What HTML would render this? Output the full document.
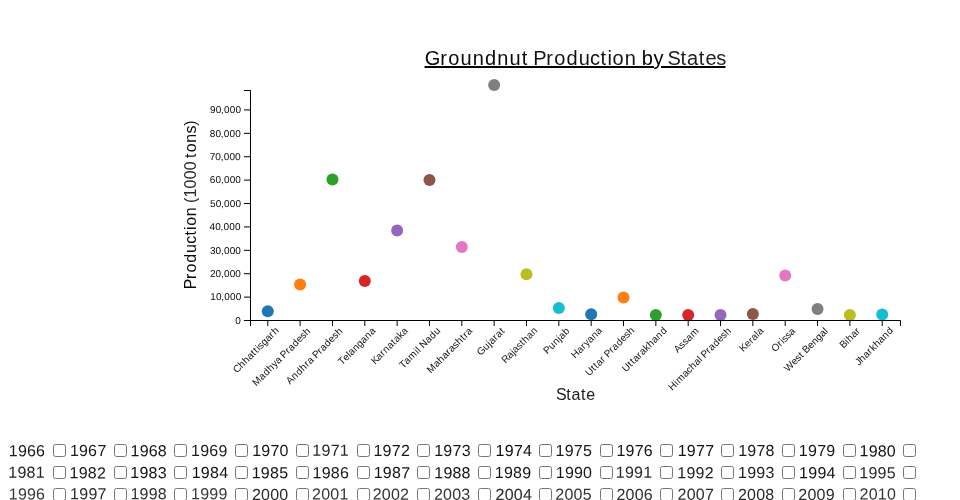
<!DOCTYPE html>
<html lang="en">
<head>
<meta charset="utf-8">
<title>Groundnut Production by States</title>
<style>
html,body{margin:0;padding:0;background:#fff;}
body{width:960px;height:500px;overflow:hidden;position:relative;font-family:"Liberation Sans", sans-serif;font-size:16px;color:#000;}
svg{position:absolute;left:0;top:0;display:block;}
svg text{font-family:"Liberation Sans", sans-serif;}
.axis path,.axis line{fill:none;stroke:#000;stroke-width:1;}
.years{position:absolute;left:0;top:0;width:960px;height:500px;}
.yr{position:absolute;white-space:nowrap;font-size:16px;line-height:22px;height:22px;}
.cb{position:absolute;margin:0;padding:0;width:13px;height:13px;}
</style>
</head>
<body>
<svg width="960" height="500" viewBox="0 0 960 500">
<text transform="translate(575,65)" font-size="20" fill="#050505"><tspan x="-150.15 -134.8 -126.75 -114.58 -102.39 -89.99 -77.89 -65.55 -53.32" fill="#0a0a0a">Groundnut</tspan> <tspan x="-41.76 -28.77 -20.72 -8.49 3.69 15.07 25.51 32.39 37.58 49.67" fill="#131313">Production</tspan> <tspan x="66.76 78.55" fill="#050505">by</tspan> <tspan x="92.61 105.47 112.07 123.72 130.45 141.27" fill="#202020">States</tspan></text>
<rect class="ul" x="424.53" y="66" width="229.47" height="2" fill="#000"/><rect class="ul" x="661" y="66" width="64.46" height="2" fill="#000"/>
<g class="dots">
<circle cx="267.79" cy="311.35" r="6" fill="#1f77b4"/>
<circle cx="300.12" cy="284.5" r="6" fill="#ff7f0e"/>
<circle cx="332.46" cy="179.5" r="6" fill="#2ca02c"/>
<circle cx="364.8" cy="281.05" r="6" fill="#d62728"/>
<circle cx="397.14" cy="230.6" r="6" fill="#9467bd"/>
<circle cx="429.48" cy="180" r="6" fill="#8c564b"/>
<circle cx="461.82" cy="247.05" r="6" fill="#e377c2"/>
<circle cx="494.15" cy="84.95" r="6" fill="#7f7f7f"/>
<circle cx="526.49" cy="274.3" r="6" fill="#bcbd22"/>
<circle cx="558.83" cy="308.05" r="6" fill="#17becf"/>
<circle cx="591.17" cy="314.35" r="6" fill="#1f77b4"/>
<circle cx="623.51" cy="297.6" r="6" fill="#ff7f0e"/>
<circle cx="655.85" cy="315" r="6" fill="#2ca02c"/>
<circle cx="688.18" cy="315" r="6" fill="#d62728"/>
<circle cx="720.52" cy="315" r="6" fill="#9467bd"/>
<circle cx="752.86" cy="314" r="6" fill="#8c564b"/>
<circle cx="785.2" cy="275.5" r="6" fill="#e377c2"/>
<circle cx="817.54" cy="309.1" r="6" fill="#7f7f7f"/>
<circle cx="849.88" cy="314.95" r="6" fill="#bcbd22"/>
<circle cx="882.21" cy="314.55" r="6" fill="#17becf"/>
</g>
<g class="axis">
<path d="M244,90.5H250.5V320.5H244"/>
<line x1="244" x2="250" y1="320.5" y2="320.5"/>
<line x1="244" x2="250" y1="297.105" y2="297.105"/>
<line x1="244" x2="250" y1="273.71" y2="273.71"/>
<line x1="244" x2="250" y1="250.315" y2="250.315"/>
<line x1="244" x2="250" y1="226.92" y2="226.92"/>
<line x1="244" x2="250" y1="203.525" y2="203.525"/>
<line x1="244" x2="250" y1="180.13" y2="180.13"/>
<line x1="244" x2="250" y1="156.735" y2="156.735"/>
<line x1="244" x2="250" y1="133.34" y2="133.34"/>
<line x1="244" x2="250" y1="109.945" y2="109.945"/>
<text transform="translate(240.936,323.7)" x="-5.64" font-size="10" fill="#080808" text-rendering="geometricPrecision">0</text>
<text transform="translate(241.282,300.305)" x="-31.1 -25.4 -20.09 -17.09 -11.37 -5.65" font-size="10" fill="#070707" text-rendering="geometricPrecision">10,000</text>
<text transform="translate(241.002,276.91)" x="-31.06 -25.4 -20.09 -17.09 -11.37 -5.65" font-size="10" fill="#070707" text-rendering="geometricPrecision">20,000</text>
<text transform="translate(240.987,253.515)" x="-31.07 -25.4 -20.09 -17.09 -11.37 -5.65" font-size="10" fill="#020202" text-rendering="geometricPrecision">30,000</text>
<text transform="translate(240.666,230.12)" x="-31.06 -25.4 -20.09 -17.09 -11.37 -5.65" font-size="10" fill="#040404" text-rendering="geometricPrecision">40,000</text>
<text transform="translate(241.07,206.725)" x="-31.05 -25.4 -20.09 -17.09 -11.37 -5.65" font-size="10" fill="#080808" text-rendering="geometricPrecision">50,000</text>
<text transform="translate(240.987,183.33)" x="-31.15 -25.4 -20.09 -17.09 -11.37 -5.65" font-size="10" fill="#080808" text-rendering="geometricPrecision">60,000</text>
<text transform="translate(240.754,159.935)" x="-31.03 -25.4 -20.09 -17.09 -11.37 -5.65" font-size="10" fill="#2b2b2b" stroke="#2b2b2b" stroke-width="0.12" text-rendering="geometricPrecision">70,000</text>
<text transform="translate(240.827,136.54)" x="-31.13 -25.4 -20.09 -17.09 -11.37 -5.65" font-size="10" fill="#040404" text-rendering="geometricPrecision">80,000</text>
<text transform="translate(241.123,113.145)" x="-31.06 -25.4 -20.09 -17.09 -11.37 -5.65" font-size="10" fill="#080808" text-rendering="geometricPrecision">90,000</text>
</g>
<g class="axis">
<path d="M250.5,326V320.5H900.5V326"/>
<line x1="267.786" x2="267.786" y1="320" y2="326"/>
<line x1="300.124" x2="300.124" y1="320" y2="326"/>
<line x1="332.463" x2="332.463" y1="320" y2="326"/>
<line x1="364.801" x2="364.801" y1="320" y2="326"/>
<line x1="397.139" x2="397.139" y1="320" y2="326"/>
<line x1="429.478" x2="429.478" y1="320" y2="326"/>
<line x1="461.816" x2="461.816" y1="320" y2="326"/>
<line x1="494.154" x2="494.154" y1="320" y2="326"/>
<line x1="526.493" x2="526.493" y1="320" y2="326"/>
<line x1="558.831" x2="558.831" y1="320" y2="326"/>
<line x1="591.169" x2="591.169" y1="320" y2="326"/>
<line x1="623.507" x2="623.507" y1="320" y2="326"/>
<line x1="655.846" x2="655.846" y1="320" y2="326"/>
<line x1="688.184" x2="688.184" y1="320" y2="326"/>
<line x1="720.522" x2="720.522" y1="320" y2="326"/>
<line x1="752.861" x2="752.861" y1="320" y2="326"/>
<line x1="785.199" x2="785.199" y1="320" y2="326"/>
<line x1="817.537" x2="817.537" y1="320" y2="326"/>
<line x1="849.876" x2="849.876" y1="320" y2="326"/>
<line x1="882.214" x2="882.214" y1="320" y2="326"/>
<text transform="translate(279.575,330.92) rotate(-45)" x="-60.25 -53.24 -47.11 -41.17 -35.36 -31.8 -28.35 -26.11 -21.43 -15.77 -9.95 -5.93" font-size="10" fill="#111111">Chhattisgarh</text>
<text transform="translate(311.315,331.463) rotate(-45)" x="-77.92 -69.27 -63.4 -57.4 -51.48 -46.45 -40.91 -38.51 -32.01 -28.19 -22.32 -16.45 -11.05 -5.94" font-size="10" fill="#131313">Madhya Pradesh</text>
<text transform="translate(343.349,331.548) rotate(-45)" x="-75.42 -68.68 -62.47 -56.47 -50.26 -46.45 -40.91 -38.51 -32.01 -28.19 -22.33 -16.45 -11.05 -5.94" font-size="10" fill="#111111">Andhra Pradesh</text>
<text transform="translate(376.155,331.449) rotate(-45)" x="-48.32 -42.44 -36.76 -34.36 -28.56 -22.9 -17.24 -11.45 -5.55" font-size="10" fill="#111111">Telangana</text>
<text transform="translate(408.54,331.272) rotate(-45)" x="-47.41 -41.27 -35.44 -31.37 -25.49 -19.66 -16.36 -10.68 -5.55" font-size="10" fill="#1d1d1d">Karnataka</text>
<text transform="translate(441.12,331.002) rotate(-45)" x="-53.61 -47.8 -41.8 -32.85 -30.32 -27.95 -25.19 -17.81 -11.94 -5.85" font-size="10" fill="#101010">Tamil Nadu</text>
<text transform="translate(473.032,331.522) rotate(-45)" x="-59.66 -51 -45.24 -39.31 -33.48 -29.67 -24.25 -19.15 -12.94 -9.37 -5.56" font-size="10" fill="#0f0f0f">Maharashtra</text>
<text transform="translate(505.466,331.463) rotate(-45)" x="-34.83 -27.14 -21.22 -18.77 -12.94 -9.13 -3.3" font-size="10" fill="#131313">Gujarat</text>
<text transform="translate(538.279,330.925) rotate(-45)" x="-46.33 -39.78 -34.16 -31.7 -26.3 -21.13 -17.63 -11.69 -5.88" font-size="10" fill="#1c1c1c">Rajasthan</text>
<text transform="translate(570.404,331.4) rotate(-45)" x="-32.68 -26.17 -20.09 -14.11 -11.67 -5.9" font-size="10" fill="#141414">Punjab</text>
<text transform="translate(602.768,331.101) rotate(-45)" x="-39.22 -31.91 -26.08 -22.27 -17.25 -11.45 -5.56" font-size="10" fill="#1b1b1b">Haryana</text>
<text transform="translate(635.159,330.718) rotate(-45)" x="-64.93 -57.39 -53.83 -50.53 -44.7 -40.89 -38.49 -32 -28.19 -22.32 -16.44 -11.04 -5.93" font-size="10" fill="#161616">Uttar Pradesh</text>
<text transform="translate(667.604,330.89) rotate(-45)" x="-58.8 -51.27 -47.71 -44.41 -38.58 -34.75 -29.07 -23.75 -17.81 -12.01 -5.82" font-size="10" fill="#141414">Uttarakhand</text>
<text transform="translate(699.647,331.352) rotate(-45)" x="-30.85 -24.49 -19.72 -14.81 -8.82" font-size="10" fill="#171717">Assam</text>
<text transform="translate(731.914,331.193) rotate(-45)" x="-84.54 -77.1 -74.27 -65.45 -60.05 -54.9 -48.97 -43.27 -40.91 -38.49 -32 -28.19 -22.32 -16.45 -11.04 -5.93" font-size="10" fill="#161616">Himachal Pradesh</text>
<text transform="translate(764.212,331.343) rotate(-45)" x="-29.49 -23.28 -17.45 -13.64 -7.94 -5.55" font-size="10" fill="#1c1c1c">Kerala</text>
<text transform="translate(795.975,331.706) rotate(-45)" x="-29.48 -21.44 -17.47 -15.24 -10.47 -5.56" font-size="10" fill="#151515">Orissa</text>
<text transform="translate(828.779,331.449) rotate(-45)" x="-57.61 -48.2 -42.79 -37.61 -34.33 -31.71 -25.19 -19.4 -13.72 -8.08 -2.38" font-size="10" fill="#0d0d0d">West Bengal</text>
<text transform="translate(861.002,331.293) rotate(-45)" x="-24.74 -18.16 -15.57 -9.64 -3.81" font-size="10" fill="#161616">Bihar</text>
<text transform="translate(893.924,330.974) rotate(-45)" x="-49.53 -44.77 -38.83 -33 -29.06 -23.74 -17.8 -12.01 -5.8" font-size="10" fill="#121212">Jharkhand</text>
</g>
<text transform="translate(576.12,400)" x="-20.11 -9.82 -4.54 4.77 10.15" font-size="16" fill="#1b1b1b">State</text>
<text transform="translate(195.684,205) rotate(-90)" font-size="16" fill="#060606"><tspan x="-84.32 -73.93 -67.49 -57.71 -47.96 -38.85 -30.52 -25.01 -20.85 -11.18" fill="#0a0a0a">Production</tspan> <tspan x="1.99 7.4 16.53 25.69 34.83" fill="#292929">(1000</tspan> <tspan x="47.06 52.68 62.35 71.55 79.32" fill="#0b0b0b">tons)</tspan></text>
<text transform="translate(8.584,456.239) rotate(0.03)" x="0.14 9.34 18.35 27.49" font-size="16" fill="#1b1b1b">1966</text>
<text transform="translate(69.761,456.106) rotate(0.03)" x="0.14 9.34 18.35 27.69" font-size="16" fill="#1c1c1c">1967</text>
<text transform="translate(130.312,456.25) rotate(0.03)" x="0.14 9.34 18.35 27.53" font-size="16" fill="#141414">1968</text>
<text transform="translate(190.905,456.113) rotate(0.03)" x="0.14 9.34 18.35 27.63" font-size="16" fill="#1c1c1c">1969</text>
<text transform="translate(252.007,456.094) rotate(0.03)" x="0.14 9.34 18.55 27.57" font-size="16" fill="#171717">1970</text>
<text transform="translate(312.097,455.797) rotate(0.03)" x="0.14 9.34 18.55 27.58" font-size="16" fill="#272727">1971</text>
<text transform="translate(373.264,456.065) rotate(0.03)" x="0.14 9.34 18.55 27.64" font-size="16" fill="#161616">1972</text>
<text transform="translate(434,455.965) rotate(0.03)" x="0.14 9.34 18.55 27.63" font-size="16" fill="#141414">1973</text>
<text transform="translate(495.438,456.069) rotate(0.03)" x="0.14 9.34 18.55 27.65" font-size="16" fill="#0c0c0c">1974</text>
<text transform="translate(555.314,455.887) rotate(0.03)" x="0.14 9.34 18.55 27.66" font-size="16" fill="#1a1a1a">1975</text>
<text transform="translate(616.28,456.095) rotate(0.03)" x="0.14 9.34 18.55 27.49" font-size="16" fill="#161616">1976</text>
<text transform="translate(677.514,455.995) rotate(0.03)" x="0.14 9.34 18.55 27.69" font-size="16" fill="#121212">1977</text>
<text transform="translate(738.039,455.892) rotate(0.03)" x="0.14 9.34 18.55 27.53" font-size="16" fill="#181818">1978</text>
<text transform="translate(798.739,455.998) rotate(0.03)" x="0.14 9.34 18.55 27.63" font-size="16" fill="#181818">1979</text>
<text transform="translate(859.307,456.373) rotate(0.03)" x="0.14 9.34 18.39 27.57" font-size="16" fill="#111111">1980</text>
<text transform="translate(8.201,477.772) rotate(0.03)" x="0.14 9.34 18.39 27.58" font-size="16" fill="#252525">1981</text>
<text transform="translate(69.427,478.363) rotate(0.03)" x="0.14 9.34 18.39 27.64" font-size="16" fill="#171717">1982</text>
<text transform="translate(130.146,478.118) rotate(0.03)" x="0.14 9.34 18.39 27.63" font-size="16" fill="#111111">1983</text>
<text transform="translate(191.531,477.996) rotate(0.03)" x="0.14 9.34 18.39 27.65" font-size="16" fill="#121212">1984</text>
<text transform="translate(251.527,478.217) rotate(0.03)" x="0.14 9.34 18.39 27.66" font-size="16" fill="#151515">1985</text>
<text transform="translate(312.489,478.248) rotate(0.03)" x="0.14 9.34 18.39 27.49" font-size="16" fill="#171717">1986</text>
<text transform="translate(373.536,478.115) rotate(0.03)" x="0.14 9.34 18.39 27.69" font-size="16" fill="#121212">1987</text>
<text transform="translate(434.109,478.227) rotate(0.03)" x="0.14 9.34 18.39 27.53" font-size="16" fill="#131313">1988</text>
<text transform="translate(494.642,478.114) rotate(0.03)" x="0.14 9.34 18.39 27.63" font-size="16" fill="#181818">1989</text>
<text transform="translate(555.56,478.102) rotate(0.03)" x="0.14 9.34 18.49 27.57" font-size="16" fill="#191919">1990</text>
<text transform="translate(615.613,477.833) rotate(0.03)" x="0.14 9.34 18.49 27.58" font-size="16" fill="#272727">1991</text>
<text transform="translate(677.095,478.134) rotate(0.03)" x="0.14 9.34 18.49 27.64" font-size="16" fill="#1d1d1d">1992</text>
<text transform="translate(737.879,478.094) rotate(0.03)" x="0.14 9.34 18.49 27.63" font-size="16" fill="#1e1e1e">1993</text>
<text transform="translate(798.905,478.189) rotate(0.03)" x="0.14 9.34 18.49 27.65" font-size="16" fill="#121212">1994</text>
<text transform="translate(859.097,478.311) rotate(0.03)" x="0.14 9.34 18.49 27.66" font-size="16" fill="#292929">1995</text>
<text transform="translate(8.621,499.455) rotate(0.03)" x="0.14 9.34 18.49 27.49" font-size="16" fill="#373737">1996</text>
<text transform="translate(69.922,499.335) rotate(0.03)" x="0.14 9.34 18.49 27.69" font-size="16" fill="#2b2b2b">1997</text>
<text transform="translate(130.257,499.238) rotate(0.03)" x="0.14 9.34 18.49 27.53" font-size="16" fill="#2f2f2f">1998</text>
<text transform="translate(190.838,499.335) rotate(0.03)" x="0.14 9.34 18.49 27.63" font-size="16" fill="#383838">1999</text>
<text transform="translate(251.727,499.887) rotate(0.03)" x="0.21 9.27 18.43 27.57" font-size="16" fill="#2a2a2a">2000</text>
<text transform="translate(311.891,499.413) rotate(0.03)" x="0.21 9.27 18.43 27.58" font-size="16" fill="#353535">2001</text>
<text transform="translate(372.49,499.622) rotate(0.03)" x="0.21 9.27 18.43 27.64" font-size="16" fill="#353535">2002</text>
<text transform="translate(433.749,499.632) rotate(0.03)" x="0.21 9.27 18.43 27.63" font-size="16" fill="#343434">2003</text>
<text transform="translate(495.39,499.923) rotate(0.03)" x="0.21 9.27 18.43 27.65" font-size="16" fill="#323232" stroke="#323232" stroke-width="0.12">2004</text>
<text transform="translate(555.133,499.796) rotate(0.03)" x="0.21 9.27 18.43 27.66" font-size="16" fill="#343434">2005</text>
<text transform="translate(616.332,499.907) rotate(0.03)" x="0.21 9.27 18.43 27.49" font-size="16" fill="#2e2e2e">2006</text>
<text transform="translate(677.407,499.849) rotate(0.03)" x="0.21 9.27 18.43 27.69" font-size="16" fill="#2e2e2e">2007</text>
<text transform="translate(737.785,499.879) rotate(0.03)" x="0.21 9.27 18.43 27.53" font-size="16" fill="#2a2a2a">2008</text>
<text transform="translate(798.152,499.876) rotate(0.03)" x="0.21 9.27 18.43 27.63" font-size="16" fill="#2d2d2d">2009</text>
<text transform="translate(859.373,499.514) rotate(0.03)" x="0.21 9.27 18.44 27.57" font-size="16" fill="#343434">2010</text>
</svg>
<div class="years">
<input type="checkbox" class="cb" style="left:52.75px;top:444px">
<input type="checkbox" class="cb" style="left:113.50px;top:444px">
<input type="checkbox" class="cb" style="left:174.25px;top:444px">
<input type="checkbox" class="cb" style="left:235.00px;top:444px">
<input type="checkbox" class="cb" style="left:295.75px;top:444px">
<input type="checkbox" class="cb" style="left:356.50px;top:444px">
<input type="checkbox" class="cb" style="left:417.25px;top:444px">
<input type="checkbox" class="cb" style="left:478.00px;top:444px">
<input type="checkbox" class="cb" style="left:538.75px;top:444px">
<input type="checkbox" class="cb" style="left:599.50px;top:444px">
<input type="checkbox" class="cb" style="left:660.25px;top:444px">
<input type="checkbox" class="cb" style="left:721.00px;top:444px">
<input type="checkbox" class="cb" style="left:781.75px;top:444px">
<input type="checkbox" class="cb" style="left:842.50px;top:444px">
<input type="checkbox" class="cb" style="left:903.25px;top:444px">
<input type="checkbox" class="cb" style="left:52.75px;top:466px">
<input type="checkbox" class="cb" style="left:113.50px;top:466px">
<input type="checkbox" class="cb" style="left:174.25px;top:466px">
<input type="checkbox" class="cb" style="left:235.00px;top:466px">
<input type="checkbox" class="cb" style="left:295.75px;top:466px">
<input type="checkbox" class="cb" style="left:356.50px;top:466px">
<input type="checkbox" class="cb" style="left:417.25px;top:466px">
<input type="checkbox" class="cb" style="left:478.00px;top:466px">
<input type="checkbox" class="cb" style="left:538.75px;top:466px">
<input type="checkbox" class="cb" style="left:599.50px;top:466px">
<input type="checkbox" class="cb" style="left:660.25px;top:466px">
<input type="checkbox" class="cb" style="left:721.00px;top:466px">
<input type="checkbox" class="cb" style="left:781.75px;top:466px">
<input type="checkbox" class="cb" style="left:842.50px;top:466px">
<input type="checkbox" class="cb" style="left:903.25px;top:466px">
<input type="checkbox" class="cb" style="left:52.75px;top:488px">
<input type="checkbox" class="cb" style="left:113.50px;top:488px">
<input type="checkbox" class="cb" style="left:174.25px;top:488px">
<input type="checkbox" class="cb" style="left:235.00px;top:488px">
<input type="checkbox" class="cb" style="left:295.75px;top:488px">
<input type="checkbox" class="cb" style="left:356.50px;top:488px">
<input type="checkbox" class="cb" style="left:417.25px;top:488px">
<input type="checkbox" class="cb" style="left:478.00px;top:488px">
<input type="checkbox" class="cb" style="left:538.75px;top:488px">
<input type="checkbox" class="cb" style="left:599.50px;top:488px">
<input type="checkbox" class="cb" style="left:660.25px;top:488px">
<input type="checkbox" class="cb" style="left:721.00px;top:488px">
<input type="checkbox" class="cb" style="left:781.75px;top:488px">
<input type="checkbox" class="cb" style="left:842.50px;top:488px">
<input type="checkbox" class="cb" style="left:903.25px;top:488px">
</div>
</body>
</html>
